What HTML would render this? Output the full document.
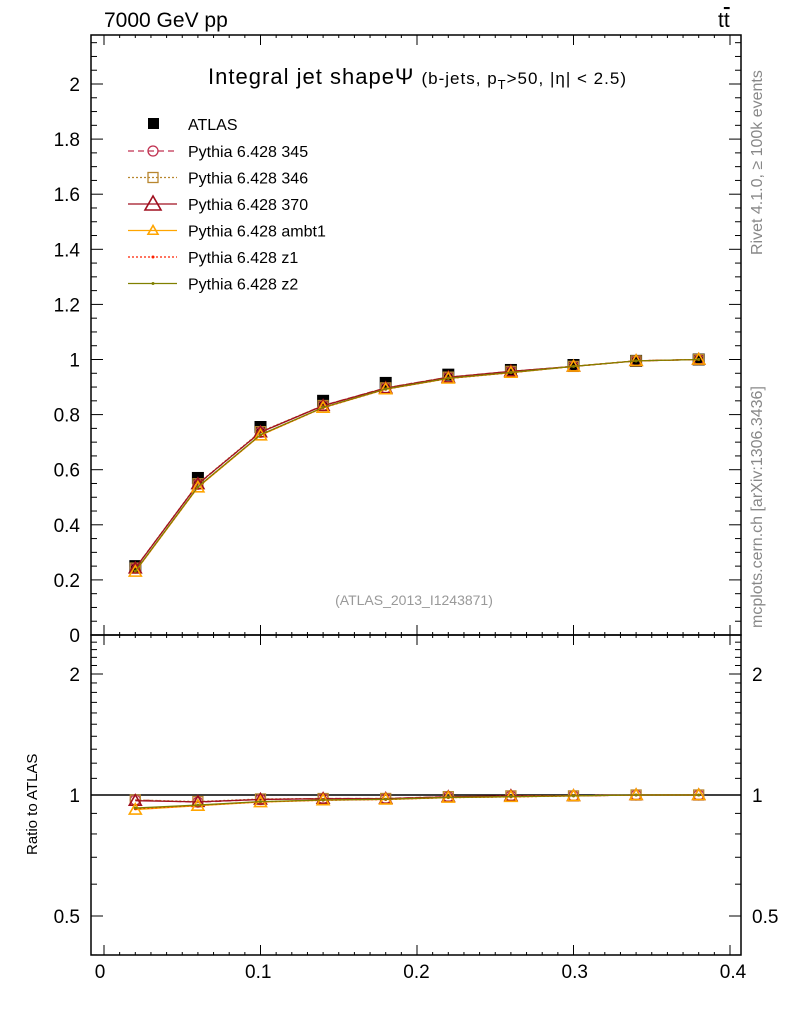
<!DOCTYPE html>
<html><head><meta charset="utf-8"><style>
body{margin:0;background:#fff;}
svg{display:block;font-family:"Liberation Sans",sans-serif;}
</style></head><body>
<svg id="c" width="786" height="1024"></svg>
<script>
const xs=[0.02,0.06,0.10,0.14,0.18,0.22,0.26,0.30,0.34,0.38];
const atlas=[0.25,0.57,0.755,0.85,0.915,0.945,0.962,0.98,0.995,1.0];
const mc345=[0.243,0.547,0.736,0.833,0.897,0.936,0.957,0.975,0.995,1.0];
const mc346=[0.243,0.549,0.738,0.833,0.897,0.936,0.957,0.975,0.995,1.0];
const mc370=[0.242,0.548,0.736,0.832,0.896,0.935,0.957,0.975,0.995,1.0];
const ambt1=[0.23,0.536,0.725,0.825,0.892,0.931,0.952,0.975,0.995,1.0];
const z1=[0.231,0.537,0.726,0.825,0.892,0.931,0.952,0.975,0.995,1.0];
const z2=[0.232,0.538,0.727,0.826,0.893,0.932,0.953,0.975,0.995,1.0];
const xTicks=[0,0.1,0.2,0.3,0.4];
const yTicks=[0,0.2,0.4,0.6,0.8,1,1.2,1.4,1.6,1.8,2];
const rTicks=[0.5,1,2];

const NS="http://www.w3.org/2000/svg";
const svg=document.getElementById('c');
function el(t,a,p){const e=document.createElementNS(NS,t);for(const k in a)e.setAttribute(k,a[k]);(p||svg).appendChild(e);return e;}
const L=91,R=741,T=35,M=635,B=955;
const X=v=>104+v*1565;
const XL=v=>100+v*1582.5;
const Y=v=>635-v*275.5;
const YR=v=>795-Math.log2(v)*121;

let f=el('rect',{x:L,y:T,width:R-L,height:M-T,fill:'none',stroke:'#000','stroke-width':1.5});

f=el('rect',{x:L,y:M,width:R-L,height:B-M,fill:'none',stroke:'#000','stroke-width':1.5});


for(let k=0;k<=40;k++){
  const v=k/100;const big=k%10===0;const len=big?10:3;const x=X(v);
  [[T,1],[M,-1],[M,1],[B,-1]].forEach(([y0,d])=>el('line',{x1:x,x2:x,y1:y0,y2:y0+d*len,stroke:'#000'}));
}
xTicks.forEach(v=>{const t=el('text',{x:XL(v),y:978,'font-size':19,'text-anchor':'middle'});t.textContent=v;
});
for(let k=0;k<=43;k++){
  const v=k*0.05;const big=k%4===0;const len=big?12:6;const y=Y(v);if(y<T)continue;
  el('line',{x1:L,x2:L+len,y1:y,y2:y,stroke:'#000'});el('line',{x1:R,x2:R-len,y1:y,y2:y,stroke:'#000'});
}
yTicks.forEach(v=>{const t=el('text',{x:80,y:Y(v)+7,'font-size':19,'text-anchor':'end'});t.textContent=v;
});
const rminor=[0.4,0.6,0.7,0.8,0.9,1.1,1.2,1.3,1.4,1.5,1.6,1.7,1.8,1.9,2.1,2.2,2.3,2.4];
rminor.forEach(v=>{const y=YR(v);el('line',{x1:L,x2:L+6,y1:y,y2:y,stroke:'#000'});el('line',{x1:R,x2:R-6,y1:y,y2:y,stroke:'#000'});});
rTicks.forEach(v=>{const y=YR(v);el('line',{x1:L,x2:L+12,y1:y,y2:y,stroke:'#000'});el('line',{x1:R,x2:R-12,y1:y,y2:y,stroke:'#000'});
const t=el('text',{x:80,y:y+7,'font-size':19,'text-anchor':'end'});t.textContent=v;
const t2=el('text',{x:752,y:y+7,'font-size':19});t2.textContent=v;});
el('line',{x1:L,x2:R,y1:YR(1),y2:YR(1),stroke:'#000','stroke-width':1.5});

function txt(s,a,name){const t=el('text',a);t.innerHTML=s;return t;}
txt('7000 GeV pp',{x:104,y:27,'font-size':21},'energy-label');
txt('t<tspan text-decoration="overline">t</tspan>',{x:718,y:27,'font-size':21},'process-label');
txt('Integral jet shape&#936; <tspan font-size="17">(b-jets, p</tspan><tspan font-size="13" dy="5">T</tspan><tspan font-size="17" dy="-5">&gt;50, |&#951;| &lt; 2.5)</tspan>',{x:208,y:84,'font-size':22,textLength:418},'plot-title');
txt('(ATLAS_2013_I1243871)',{x:414,y:605,'font-size':14,fill:'#999','text-anchor':'middle'},'analysis-id');
txt('Rivet 4.1.0, &#8805; 100k events',{x:0,y:0,'font-size':16,fill:'#888',transform:'translate(762,255) rotate(-90)'},'rivet-label');
txt('mcplots.cern.ch [arXiv:1306.3436]',{x:0,y:0,'font-size':16,fill:'#888',transform:'translate(762,628) rotate(-90)'},'mcplots-label');
txt('Ratio to ATLAS',{x:0,y:0,'font-size':15,transform:'translate(37,855) rotate(-90)'},'ratio-y-title');

const series=[
 {d:mc345,c:'#c03050',dash:'6,4',m:'circle',n:'pythia-345',lab:'Pythia 6.428 345'},
 {d:mc346,c:'#b8862e',dash:'2,2',m:'square',n:'pythia-346',lab:'Pythia 6.428 346'},
 {d:mc370,c:'#a01020',dash:'',m:'tri',n:'pythia-370',lab:'Pythia 6.428 370'},
 {d:ambt1,c:'#ffa500',dash:'',m:'tri',n:'pythia-ambt1',lab:'Pythia 6.428 ambt1'},
 {d:z1,c:'#ff2000',dash:'2,2',m:'dot',n:'pythia-z1',lab:'Pythia 6.428 z1'},
 {d:z2,c:'#808000',dash:'',m:'dot',n:'pythia-z2',lab:'Pythia 6.428 z2'}];
function marker(m,x,y,c,g,big,s0){
  if(m==='circle')el('circle',{cx:x,cy:y,r:5,fill:'none',stroke:c,'stroke-width':1.3},g);
  else if(m==='square')el('rect',{x:x-5,y:y-5,width:10,height:10,fill:'none',stroke:c,'stroke-width':1.3},g);
  else if(m==='tri'){const s=s0||6;el('polygon',{points:`${x},${y-s} ${x-s},${y+s*0.75} ${x+s},${y+s*0.75}`,fill:'none',stroke:c,'stroke-width':1.6},g);}
  else el('circle',{cx:x,cy:y,r:1.5,fill:c},g);
}
const ga=el('g',{});
xs.forEach((x,i)=>el('rect',{x:X(x)-6,y:Y(atlas[i])-6,width:12,height:12,fill:'#000'},ga));
series.forEach(s=>{
  const g=el('g',{});
  el('polyline',{points:xs.map((x,i)=>X(x)+','+Y(s.d[i])).join(' '),fill:'none',stroke:s.c,'stroke-width':1.3,'stroke-dasharray':s.dash},g);
  xs.forEach((x,i)=>marker(s.m,X(x),Y(s.d[i]),s.c,g));
  const gr=el('g',{});
  el('polyline',{points:xs.map((x,i)=>X(x)+','+YR(s.d[i]/atlas[i])).join(' '),fill:'none',stroke:s.c,'stroke-width':1.3,'stroke-dasharray':s.dash},gr);
  xs.forEach((x,i)=>marker(s.m,X(x),YR(s.d[i]/atlas[i]),s.c,gr));
});
const lg=el('g',{});
el('rect',{x:148,y:118,width:11,height:11,fill:'#000'},lg);
let t=el('text',{x:188,y:130,'font-size':16},lg);t.textContent='ATLAS';
series.forEach((s,i)=>{const y=151+i*26.5;
  el('line',{x1:128,x2:177,y1:y,y2:y,stroke:s.c,'stroke-width':1.3,'stroke-dasharray':s.dash},lg);
  marker(s.m,153,y,s.c,lg,true,s.n==='pythia-370'?8:5);
  const tt=el('text',{x:188,y:y+6,'font-size':16},lg);tt.textContent=s.lab;
  });
</script>
</body></html>
